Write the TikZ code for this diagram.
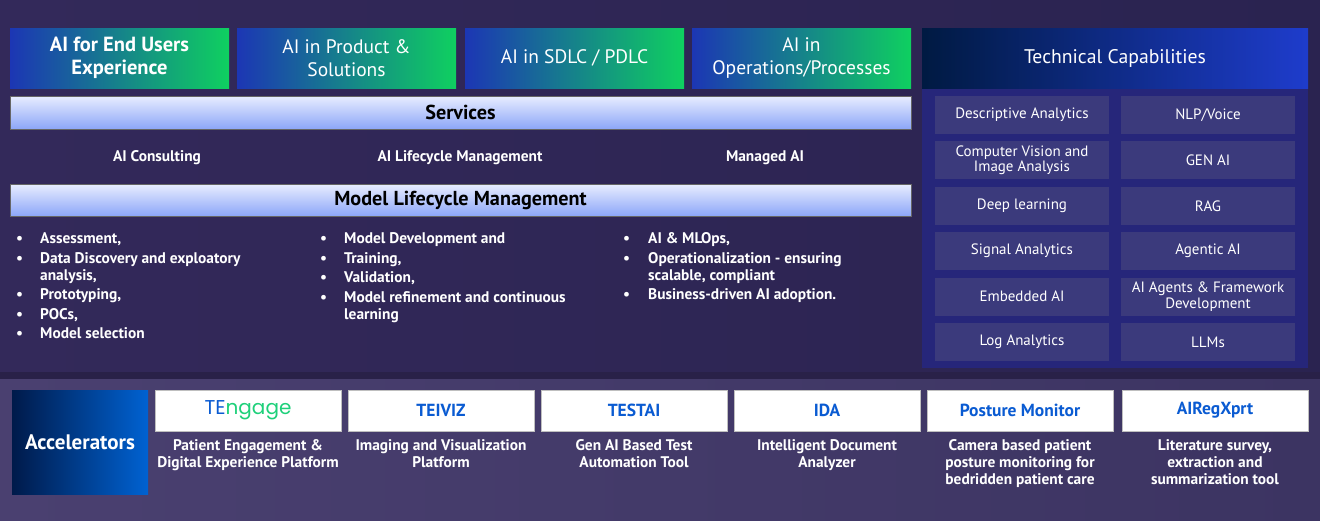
\documentclass[tikz,border=0pt]{standalone}
\usepackage{fontspec}
\setmainfont{PT Sans}
\newfontfamily\logofont{Poppins}
\usepackage{array}
\usetikzlibrary{positioning}

\definecolor{bgtop}{HTML}{33295A}
\definecolor{bgright}{HTML}{2A2350}
\definecolor{bgband}{HTML}{4A4070}
\definecolor{bgbandr}{HTML}{3C3462}
\definecolor{hdblue}{HTML}{1C36B4}
\definecolor{hdgreen}{HTML}{0FD060}
\definecolor{svtop}{HTML}{E8EDFF}
\definecolor{svbot}{HTML}{8CA6F8}
\definecolor{tcnavy}{HTML}{001A42}
\definecolor{tcblue}{HTML}{1E3CCC}
\definecolor{tcpanel}{HTML}{26267A}
\definecolor{tccell}{HTML}{3B3A7C}
\definecolor{accnavy}{HTML}{001A4A}
\definecolor{accblue}{HTML}{0062D2}
\definecolor{prodblue}{HTML}{0A5BD2}
\definecolor{tegreen}{HTML}{1ED07A}

\begin{document}
\begin{tikzpicture}[
      x=1pt, y=-1pt,
      every node/.style={inner sep=0pt, align=center},
      focus/.style={left color=hdblue, right color=hdgreen, minimum width=219pt, minimum height=60pt,
        text=white, font=\bfseries\fontsize{20.5}{23}\selectfont},
      bar/.style={top color=svtop, bottom color=svbot, draw=black!60, line width=0.6pt,
        minimum width=901pt, font=\bfseries\fontsize{20.2}{22}\selectfont},
      service/.style={text=white, font=\bfseries\fontsize{15.4}{17}\selectfont},
      bullets/.style={anchor=north west, text=white, align=left, font=\bfseries\fontsize{15.4}{17}\selectfont},
      capcell/.style={fill=tccell, minimum width=174pt, minimum height=38pt, text=white,
        font=\fontsize{15}{15.5}\selectfont},
      product/.style={fill=white, draw=black!25, minimum width=186pt, minimum height=41pt,
        text=prodblue, font=\bfseries\fontsize{17.5}{18}\selectfont},
      blurb/.style={below=8pt of #1, anchor=north, text=white, font=\bfseries\fontsize{15.4}{17}\selectfont}
    ]
      \useasboundingbox (0,0) rectangle (1320,520);
      \shade[left color=bgtop, right color=bgright] (0,0) rectangle (1320,372);
      \fill[bgtop!80!black] (0,372) rectangle (1320,379);
      \shade[left color=bgband, right color=bgbandr] (0,379) rectangle (1320,520);

      \node[focus] (endusers) at (119.5,58) {AI for End Users\\Experience};
      \node[focus, font=\fontsize{19.5}{23}\selectfont] (product) at (346.5,58) {AI in Product \&\\Solutions};
      \node[focus, font=\fontsize{19.5}{23}\selectfont] (sdlc) at (574.5,58) {AI in SDLC / PDLC};
      \node[focus, font=\fontsize{19.5}{23}\selectfont] (operations) at (801.5,58) {AI in\\Operations/Processes};

      \node[bar, minimum height=33pt] (services) at (460.5,112.5) {Services};
      \node[service] (consulting) at (157,157.5) {AI Consulting};
      \node[service] (lifecycle) at (460,157.5) {AI Lifecycle Management};
      \node[service] (managed) at (765,157.5) {Managed AI};

      \node[bar, minimum height=32pt] (modelmgmt) at (460.5,200) {Model Lifecycle Management};
      \node[bullets] (listA) at (16,231.5) {%
        \begin{tabular}{@{}p{24pt}@{}l@{}}
          • & Assessment,\\[2.5pt]
          • & Data Discovery and exploatory\\
            & analysis,\\[2.5pt]
          • & Prototyping,\\[2.5pt]
          • & POCs,\\[2.5pt]
          • & Model selection
        \end{tabular}};
      \node[bullets] (listB) at (320,231.5) {%
        \begin{tabular}{@{}p{24pt}@{}l@{}}
          • & Model Development and\\[2.5pt]
          • & Training,\\[2.5pt]
          • & Validation,\\[2.5pt]
          • & Model refinement and continuous\\
            & learning
        \end{tabular}};
      \node[bullets] (listC) at (623,231.5) {%
        \begin{tabular}{@{}p{25pt}@{}l@{}}
          • & AI \& MLOps,\\[2.5pt]
          • & Operationalization - ensuring\\
            & scalable, compliant\\[2.5pt]
          • & Business-driven AI adoption.
        \end{tabular}};

      \fill[tcpanel] (922,28) rectangle (1308,368);
      \node[left color=tcnavy, right color=tcblue, minimum width=386pt, minimum height=60pt,
        text=white, font=\fontsize{19.7}{22}\selectfont] (techcap) at (1115,58) {Technical Capabilities};
      \foreach \left/\right [count=\i] in {
          {Descriptive Analytics}/{NLP/Voice},
          {Computer Vision and\\Image Analysis}/{GEN AI},
          {Deep learning}/{RAG},
          {Signal Analytics}/{Agentic AI},
          {Embedded AI}/{AI Agents \& Framework\\Development},
          {Log Analytics}/{LLMs}}
        {
          \node[capcell] (capL\i) at (1022,{115+45.4*(\i-1)}) {\left};
          \node[capcell] (capR\i) at (1208,{115+45.4*(\i-1)}) {\right};
        }

      \node[left color=accnavy, right color=accblue, minimum width=136pt, minimum height=104pt,
        text=white, font=\bfseries\fontsize{21}{22}\selectfont] (accel) at (80,442) {Accelerators};
      \node[product] (tengage) at (248,410.5) {\logofont\mdseries\fontsize{20}{18}\selectfont
        TE\textcolor{tegreen}{ngage}};
      \node[product] (teiviz) at (441,410.5) {TEIVIZ};
      \node[product] (testai) at (634,410.5) {TESTAI};
      \node[product] (ida) at (827,410.5) {IDA};
      \node[product] (posture) at (1020,410.5) {Posture Monitor};
      \node[product] (airegxprt) at (1215,410.5) {AIRegXprt};

      \node[blurb=tengage] (tengageTxt) {Patient Engagement \&\\Digital Experience Platform};
      \node[blurb=teiviz] (teivizTxt) {Imaging and Visualization\\Platform};
      \node[blurb=testai] (testaiTxt) {Gen AI Based Test\\Automation Tool};
      \node[blurb=ida] (idaTxt) {Intelligent Document\\Analyzer};
      \node[blurb=posture] (postureTxt) {Camera based patient\\posture monitoring for\\bedridden patient care};
      \node[blurb=airegxprt] (airegxprtTxt) {Literature survey,\\extraction and\\summarization tool};
    \end{tikzpicture}
\end{document}
